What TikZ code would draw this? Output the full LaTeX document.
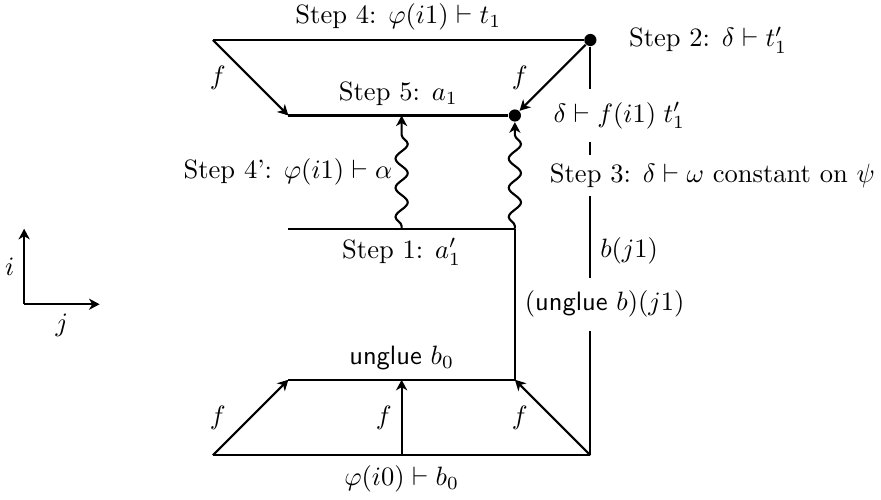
\documentclass[tikz,border=0pt]{standalone}
\usepackage{amsmath,amssymb}
\usepackage{tikz}
\usetikzlibrary{arrows.meta,positioning,calc,decorations.pathmorphing}

\begin{document}
\begin{tikzpicture}[
  >={Stealth[length=4pt,width=4.2pt,inset=1.2pt]},
  line/.style={thick},
  arrow/.style={->,thick},
  wavy/.style={->,thick,decorate,decoration={snake,amplitude=2.3pt,segment length=11pt,pre length=1pt,post length=3pt}},
  dot/.style={circle,fill,inner sep=0pt,minimum size=4.6pt},
  cover/.style={fill=white}
]
  \useasboundingbox (-2.82,-0.58) rectangle (8.85,6.03);

  % Corners of the cube faces
  \coordinate (tl) at (0,5.5);
  \node[dot] (tr) at (5,5.5) {};
  \coordinate (ml) at (1,4.5);
  \coordinate (mm) at (2.5,4.5);
  \node[dot] (mr) at (4,4.5) {};
  \coordinate (sl) at (1,3);
  \coordinate (sm) at (2.5,3);
  \coordinate (sr) at (4,3);
  \coordinate (ul) at (1,1);
  \coordinate (um) at (2.5,1);
  \coordinate (ur) at (4,1);
  \coordinate (bl) at (0,0);
  \coordinate (bm) at (2.5,0);
  \coordinate (br) at (5,0);

  % Axes
  \coordinate (o) at (-2.5,2);
  \coordinate (ax) at (-1.5,2);
  \coordinate (ay) at (-2.5,3);
  \draw[arrow] (o) -- node[left] (li) {$i$} (ay);
  \draw[arrow] (o) -- node[below] (lj) {$j$} (ax);

  % Top face
  \draw[line] (tl) -- node[above] (s4) {Step 4: $\varphi(i1) \vdash t_1$} (tr);
  \draw[line] (ml) -- node[above] (s5) {Step 5: $a_1$} (mr);
  \draw[arrow] (tl) -- node[left=2mm] (f1) {$f$} (ml);
  \draw[arrow] (tr) -- node[left=2mm] (f2) {$f$} (mr);
  \node[right=3mm of tr] (s2) {Step 2: $\delta \vdash t'_1$};

  % Right side
  \draw[line] (tr) -- node[right,cover] (bj) {$b(j1)$} (br);

  % Middle
  \draw[line] (sl) -- node[below] (s1) {Step 1: $a'_1$} (sr);
  \draw[wavy] (sm) -- (mm);
  \draw[wavy] (sr) -- (mr);
  \path (sm) -- node[left] (s4p) {Step 4': $\varphi(i1) \vdash \alpha$} (mm);
  \path (sr) -- node[right=3.4mm,cover] (s3) {Step 3: $\delta \vdash \omega$ constant on $\psi$} (mr);
  \node[right=3mm of mr,cover,inner ysep=5pt] (dl) {$\delta \vdash f(i1)\; t'_1$};
  \draw[line] (sr) -- node[right,cover,inner ysep=5pt] (ub) {$(\textsf{unglue}\ b)(j1)$} (ur);

  % Bottom face
  \draw[line] (ul) -- node[above] (u0) {\textsf{unglue} $b_0$} (ur);
  \draw[line] (bl) -- node[below] (b0) {$\varphi(i0) \vdash b_0$} (br);
  \draw[arrow] (bl) -- node[left=2mm] (f3) {$f$} (ul);
  \draw[arrow] (bm) -- node[left] (f4) {$f$} (um);
  \draw[arrow] (br) -- node[left=2mm] (f5) {$f$} (ur);
\end{tikzpicture}
\end{document}
